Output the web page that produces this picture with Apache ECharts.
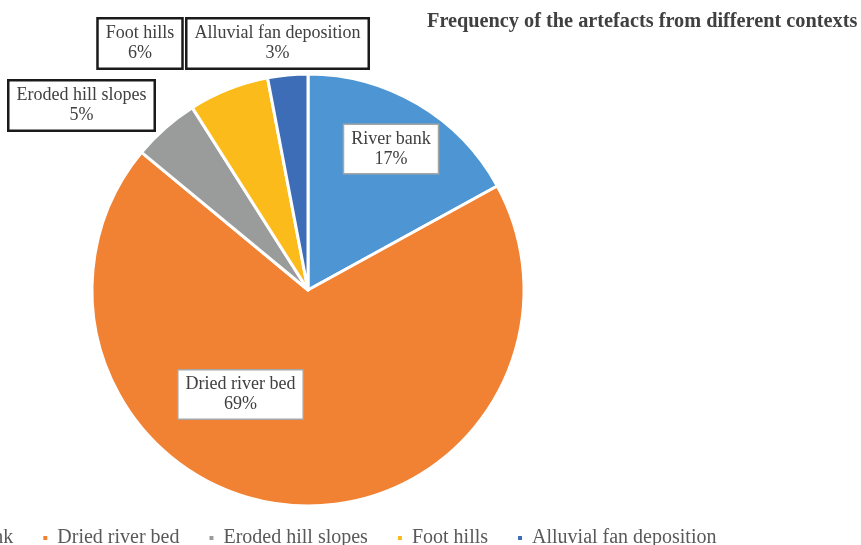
<!DOCTYPE html>
<html>
<head>
<meta charset="utf-8">
<script src="https://cdn.jsdelivr.net/npm/echarts@6/dist/echarts.min.js"></script>
<style>
  html, body { margin: 0; padding: 0; background: #ffffff; }
  #chart { width: 861px; height: 545px; }
</style>
</head>
<body>
<div id="chart"></div>
<script>
// Contexts and their share of the recovered artefacts (percent)
const contexts = ['River bank', 'Dried river bed', 'Eroded hill slopes', 'Foot hills', 'Alluvial fan deposition'];
const shares = [17, 69, 5, 6, 3];
const sliceColors = ['#4d96d3', '#f18133', '#9a9c9c', '#fbbb1a', '#3e6db8'];

// Label box centres (px) and whether the box sits inside its slice
const labelCentres = [[391, 149], [240.5, 394.5], [81.5, 105.5], [140, 43.5], [277.5, 43.5]];
const labelInside = [true, true, false, false, false];

const serif = '"Liberation Serif", "Times New Roman", serif';

const chart = echarts.init(document.getElementById('chart'), null, { renderer: 'canvas' });

const data = contexts.map((name, i) => ({
  name: name,
  value: shares[i],
  itemStyle: { color: sliceColors[i] },
  label: labelInside[i]
    ? { backgroundColor: '#ffffff', borderColor: '#a6a6a6', borderWidth: 1.5 }
    : { backgroundColor: '#ffffff', borderColor: '#1a1a1a', borderWidth: 2.5 }
}));

chart.setOption({
  animation: false,
  backgroundColor: '#ffffff',
  title: {
    text: 'Frequency of the artefacts from different contexts',
    left: 427,
    top: 12,
    padding: 0,
    textStyle: { fontFamily: serif, fontSize: 20.3, fontWeight: 'bold', color: '#404040' }
  },
  legend: {
    data: contexts,
    left: -91,
    top: 528,
    padding: 0,
    icon: 'rect',
    itemWidth: 6,
    itemHeight: 6,
    itemGap: 28,
    textStyle: { fontFamily: serif, fontSize: 20, color: '#595959', padding: [0, 0, 0, 4] }
  },
  series: [{
    type: 'pie',
    center: [308, 290],
    radius: [0, 216],
    startAngle: 90,
    clockwise: true,
    avoidLabelOverlap: false,
    itemStyle: { borderColor: '#ffffff', borderWidth: 3 },
    label: {
      show: true,
      formatter: '{b}\n{d}%',
      fontFamily: serif,
      fontSize: 18,
      lineHeight: 20,
      color: '#404040',
      padding: [5, 7, 3, 7],
      align: 'center'
    },
    labelLine: { show: false },
    labelLayout: function (params) {
      const c = labelCentres[params.dataIndex];
      return { x: c[0], y: c[1], align: 'center', verticalAlign: 'middle' };
    },
    emphasis: { disabled: true },
    data: data
  }]
});
</script>
</body>
</html>
